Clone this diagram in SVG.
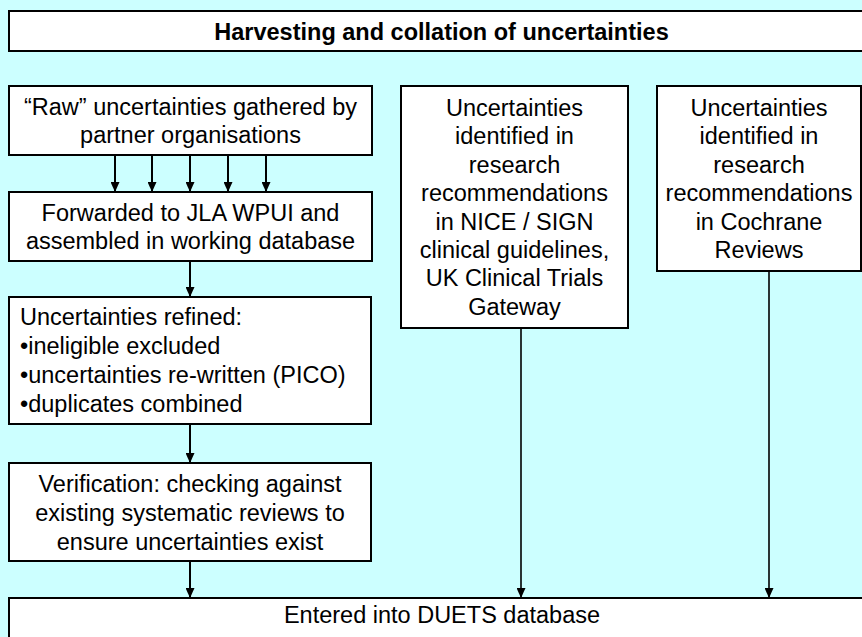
<svg xmlns="http://www.w3.org/2000/svg" width="862" height="637" viewBox="0 0 862 637">
<defs>
<marker id="ah" markerUnits="userSpaceOnUse" markerWidth="10" markerHeight="9" refX="10" refY="4.5" orient="auto">
<path d="M0,0 L10,4.5 L0,9 z" fill="#000"/>
</marker>
</defs>
<style>
.box{fill:#fff;stroke:#000;stroke-width:2}
.t{font-family:"Liberation Sans",Arial,sans-serif;font-size:23.5px;fill:#000}
.c{text-anchor:middle}
.b{font-weight:bold}
.con{stroke:#000;stroke-width:2;fill:none;marker-end:url(#ah)}
.thin{stroke-width:1.6}
</style>
<rect x="0" y="0" width="862" height="637" fill="#CCFFFF"/>

<g id="title">
<rect class="box" x="9" y="11" width="870" height="40"/>
<text class="t c b" x="441.5" y="40">Harvesting and collation of uncertainties</text>
</g>

<g id="raw">
<rect class="box" x="9" y="86" width="363" height="69"/>
<text class="t c" x="190.5" y="115">“Raw” uncertainties gathered by</text>
<text class="t c" x="190.5" y="143">partner organisations</text>
</g>

<g id="forwarded">
<rect class="box" x="9" y="192" width="363" height="69"/>
<text class="t c" x="190.5" y="221">Forwarded to JLA WPUI and</text>
<text class="t c" x="190.5" y="249">assembled in working database</text>
</g>

<g id="refined">
<rect class="box" x="9" y="297" width="362" height="127"/>
<text class="t" x="20" y="325">Uncertainties refined:</text>
<text class="t" x="20" y="354">•ineligible excluded</text>
<text class="t" x="20" y="383">•uncertainties re-written (PICO)</text>
<text class="t" x="20" y="412">•duplicates combined</text>
</g>

<g id="verification">
<rect class="box" x="9" y="463" width="362" height="98"/>
<text class="t c" x="190" y="492">Verification: checking against</text>
<text class="t c" x="190" y="521">existing systematic reviews to</text>
<text class="t c" x="190" y="550">ensure uncertainties exist</text>
</g>

<g id="nice">
<rect class="box" x="401" y="86" width="227" height="242"/>
<text class="t c" x="514.5" y="116">Uncertainties</text>
<text class="t c" x="514.5" y="144.4">identified in</text>
<text class="t c" x="514.5" y="172.8">research</text>
<text class="t c" x="514.5" y="201.2">recommendations</text>
<text class="t c" x="514.5" y="229.6">in NICE / SIGN</text>
<text class="t c" x="514.5" y="258">clinical guidelines,</text>
<text class="t c" x="514.5" y="286.4">UK Clinical Trials</text>
<text class="t c" x="514.5" y="314.8">Gateway</text>
</g>

<g id="cochrane">
<rect class="box" x="657" y="86" width="204" height="185"/>
<text class="t c" x="759" y="116">Uncertainties</text>
<text class="t c" x="759" y="144.4">identified in</text>
<text class="t c" x="759" y="172.8">research</text>
<text class="t c" x="759" y="201.2">recommendations</text>
<text class="t c" x="759" y="229.6">in Cochrane</text>
<text class="t c" x="759" y="258">Reviews</text>
</g>

<g id="duets">
<rect class="box" x="9" y="598" width="870" height="60"/>
<text class="t c" x="442" y="623">Entered into DUETS database</text>
</g>

<g id="connectors">
<line class="con" x1="115" y1="155" x2="115" y2="192"/>
<line class="con" x1="152" y1="155" x2="152" y2="192"/>
<line class="con" x1="190" y1="155" x2="190" y2="192"/>
<line class="con" x1="228" y1="155" x2="228" y2="192"/>
<line class="con" x1="266" y1="155" x2="266" y2="192"/>
<line class="con" x1="190" y1="261" x2="190" y2="297"/>
<line class="con" x1="190" y1="424" x2="190" y2="463"/>
<line class="con" x1="190" y1="561" x2="190" y2="598"/>
<line class="con thin" x1="521" y1="328" x2="521" y2="598"/>
<line class="con thin" x1="769" y1="271" x2="769" y2="598"/>
</g>
</svg>
